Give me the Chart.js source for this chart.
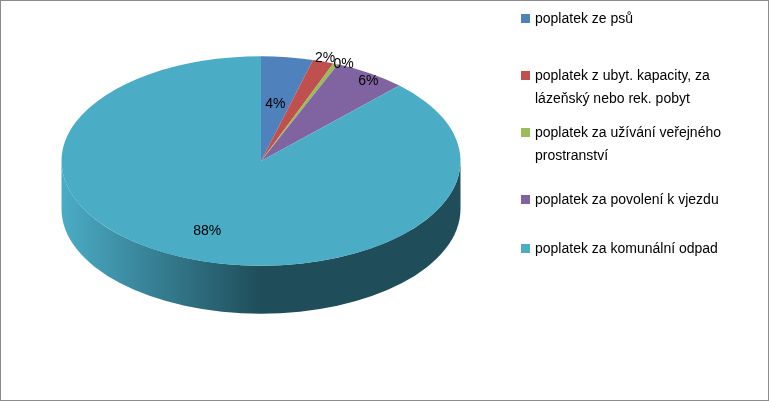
<!DOCTYPE html>
<html><head><meta charset="utf-8">
<script src="https://cdn.jsdelivr.net/npm/chart.js@4"></script>
<style>
body{margin:0;background:#fff;}
#wrap{position:relative;width:767px;height:399px;border:1px solid #8c8c8c;overflow:hidden;}
canvas{position:absolute;left:0;top:0;}
.leg{position:absolute;left:520px;font:14px "Liberation Sans",Arial,sans-serif;color:#000;line-height:23px;width:245px;}
.leg span{position:absolute;left:0;top:7px;width:9px;height:9px;}
.leg div{padding-left:14px;}
</style></head><body>
<div id="wrap"><canvas id="c" width="767" height="399"></canvas><div id="legend"></div></div>
<script>
const labels = ['poplatek ze psů','poplatek z ubyt. kapacity, za lázeňský nebo rek. pobyt','poplatek za užívání veřejného prostranství','poplatek za povolení k vjezdu','poplatek za komunální odpad'];
const values = [4.2, 1.7, 0.4, 5.9, 87.8];
const pctText = ['4%','2%','0%','6%','88%'];
const colors = ['#4F81BD','#C0504D','#9BBB59','#8064A2','#4BACC6'];
const sideColors = ['#2c4d75','#772c2a','#5f7530','#4d3b62','#1f4d5a'];
const legendTops = [6, 63, 120, 187, 236];
const legendHtml = [
  'poplatek ze psů',
  'poplatek z ubyt. kapacity, za<br>lázeňský nebo rek. pobyt',
  'poplatek za užívání veřejného<br>prostranství',
  'poplatek za povolení k vjezdu',
  'poplatek za komunální odpad'];

const lg = document.getElementById('legend');
legendHtml.forEach((t,i)=>{
  const d = document.createElement('div');
  d.className='leg'; d.style.top=legendTops[i]+'px';
  d.innerHTML='<span style="background:'+colors[i]+'"></span><div>'+t+'</div>';
  lg.appendChild(d);
});

const K = 0.525, CY = 160, DEPTH = 48;
const pie3d = {
  id:'pie3d',
  beforeDatasetsDraw(chart){
    const ctx = chart.ctx;
    const arcs = chart.getDatasetMeta(0).data;
    const cx = arcs[0].x, cy = arcs[0].y, R = arcs[0].outerRadius;
    // side wall
    arcs.forEach((a,i)=>{
      let s = a.startAngle, e = a.endAngle;
      for (let off=-2*Math.PI; off<=2*Math.PI; off+=2*Math.PI){
        const s2 = Math.max(s+off,0), e2 = Math.min(e+off,Math.PI);
        if (e2<=s2) continue;
        const g = ctx.createLinearGradient(cx-R,0,cx+R,0);
        g.addColorStop(0, colors[i]); g.addColorStop(0.5, sideColors[i]); g.addColorStop(1, sideColors[i]);
        ctx.save();
        ctx.beginPath();
        ctx.ellipse(cx, CY, R, R*K, 0, s2, e2);
        ctx.ellipse(cx, CY+DEPTH, R, R*K, 0, e2, s2, true);
        ctx.closePath();
        ctx.fillStyle = g; ctx.fill();
        ctx.restore();
      }
    });
    ctx.save();
    ctx.translate(cx, CY); ctx.scale(1, K); ctx.translate(-cx, -cy);
  },
  afterDatasetsDraw(chart){
    const ctx = chart.ctx;
    ctx.restore();
    const arcs = chart.getDatasetMeta(0).data;
    ctx.font = '14px "Liberation Sans",Arial,sans-serif';
    ctx.fillStyle = '#000'; ctx.textAlign='center'; ctx.textBaseline='middle';
    const rf = [0.55, 1.03, 1.0, 0.98, 0.72];
    arcs.forEach((a,i)=>{
      const m = (a.startAngle+a.endAngle)/2;
      const r = a.outerRadius*rf[i];
      ctx.fillText(pctText[i], a.x + r*Math.cos(m) + (i==2?8:0), CY + r*K*Math.sin(m) + (i==3?6:0));
    });
  }
};

new Chart(document.getElementById('c'), {
  type:'pie',
  data:{labels, datasets:[{data:values, backgroundColor:colors, borderWidth:0}]},
  options:{
    responsive:false, animation:false,
    layout:{padding:{left:60, right:307, top:0, bottom:0}},
    plugins:{legend:{display:false}, tooltip:{enabled:false}}
  },
  plugins:[pie3d]
});
</script>
</body></html>
